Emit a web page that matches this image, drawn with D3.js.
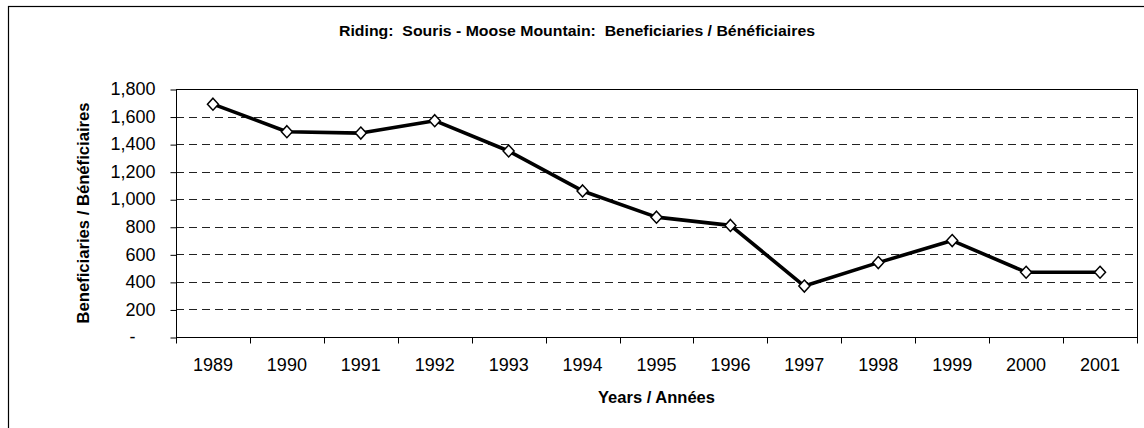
<!DOCTYPE html>
<html>
<head>
<meta charset="utf-8">
<script src="https://cdn.jsdelivr.net/npm/d3@7"></script>
<style>
  body { margin: 0; background: #fff; }
  svg { display: block; }
</style>
</head>
<body>
<div id="chart"></div>
<script>
// data
var years = ["1989","1990","1991","1992","1993","1994","1995","1996","1997","1998","1999","2000","2001"];
var beneficiaries = [1690, 1490, 1480, 1570, 1350, 1060, 870, 810, 370, 540, 700, 470, 470];
var yTicks = [0, 200, 400, 600, 800, 1000, 1200, 1400, 1600, 1800];

var W = 1144, H = 428;
var m = {top: 89, right: 7, bottom: 91, left: 176};
var font = "'Liberation Sans', Arial, sans-serif";

var svg = d3.select("#chart").append("svg")
    .attr("width", W).attr("height", H);

// outer chart frame (only top/left visible in the picture)
svg.append("rect")
    .attr("x", 8.5).attr("y", 6.5)
    .attr("width", W).attr("height", H)
    .style("fill", "none").style("stroke", "#000").style("stroke-width", 1.2);

var pw = W - m.left - m.right, ph = H - m.top - m.bottom;
var g = svg.append("g").attr("transform", "translate(" + m.left + "," + m.top + ")");

var x = d3.scaleBand().domain(years).range([0, pw]);
var y = d3.scaleLinear().domain([0, 1800]).range([ph, 0]);

// dashed gridlines
g.append("g").selectAll("line")
    .data(yTicks.filter(function(d){ return d > 0 && d < 1800; }))
    .enter().append("line")
    .attr("x1", 0).attr("x2", pw)
    .attr("y1", function(d){ return Math.round(y(d)) + 0.5; })
    .attr("y2", function(d){ return Math.round(y(d)) + 0.5; })
    .style("stroke", "#222").style("stroke-width", 1)
    .style("stroke-dasharray", "8,5");

// plot frame
g.append("rect")
    .attr("x", 0.5).attr("y", 0.5).attr("width", pw).attr("height", ph)
    .style("fill", "none").style("stroke", "#000").style("stroke-width", 1);

// y axis
var yAxis = d3.axisLeft(y).tickValues(yTicks).tickSize(6).tickPadding(15)
    .tickFormat(function(d){ return d === 0 ? "-" : d3.format(",")(d); });
var gy = g.append("g").attr("transform", "translate(0.5,0)").call(yAxis);
gy.select(".domain").remove();
gy.selectAll("line").attr("transform", "translate(0,0.5)").style("stroke", "#000");
gy.selectAll("text")
    .style("font-family", font).style("font-size", "18px").style("fill", "#000")
    .attr("dx", function(d){ return d === 0 ? -20 : 0; });

// x axis, ticks on band boundaries
var gx = g.append("g").attr("transform", "translate(0," + (ph + 0.5) + ")");
gx.selectAll("line.tick")
    .data(years.concat(["end"]))
    .enter().append("line").attr("class", "tick")
    .attr("x1", function(d, i){ return Math.round(i * x.step()) + 0.5; })
    .attr("x2", function(d, i){ return Math.round(i * x.step()) + 0.5; })
    .attr("y1", 0).attr("y2", 6)
    .style("stroke", "#000");
gx.selectAll("text")
    .data(years)
    .enter().append("text")
    .attr("x", function(d){ return x(d) + x.bandwidth() / 2; })
    .attr("y", 33)
    .attr("text-anchor", "middle")
    .style("font-family", font).style("font-size", "18px")
    .text(function(d){ return d; });

// line + diamond markers
var line = d3.line()
    .x(function(d, i){ return x(years[i]) + x.bandwidth() / 2; })
    .y(function(d){ return y(d); });

g.append("path")
    .datum(beneficiaries)
    .attr("d", line)
    .style("fill", "none").style("stroke", "#000").style("stroke-width", 3.6)
    .style("stroke-linejoin", "round");

g.selectAll("path.marker")
    .data(beneficiaries)
    .enter().append("path").attr("class", "marker")
    .attr("transform", function(d, i){
        return "translate(" + (x(years[i]) + x.bandwidth() / 2) + "," + y(d) + ")";
    })
    .attr("d", "M0,-6L5.5,0L0,6L-5.5,0Z")
    .style("fill", "#fff").style("stroke", "#000").style("stroke-width", 1.5);

// titles
svg.append("text")
    .attr("x", 577).attr("y", 36)
    .attr("text-anchor", "middle")
    .attr("textLength", 476).attr("lengthAdjust", "spacingAndGlyphs")
    .style("white-space", "pre")
    .style("font-family", font).style("font-weight", "bold").style("font-size", "15px")
    .text("Riding:  Souris - Moose Mountain:  Beneficiaries / Bénéficiaires");

svg.append("text")
    .attr("x", m.left + pw / 2).attr("y", 403)
    .attr("text-anchor", "middle")
    .attr("textLength", 117).attr("lengthAdjust", "spacingAndGlyphs")
    .style("font-family", font).style("font-weight", "bold").style("font-size", "17px")
    .text("Years / Années");

svg.append("text")
    .attr("transform", "translate(89," + (m.top + ph / 2) + ") rotate(-90)")
    .attr("text-anchor", "middle")
    .attr("textLength", 221).attr("lengthAdjust", "spacingAndGlyphs")
    .style("font-family", font).style("font-weight", "bold").style("font-size", "17px")
    .text("Beneficiaries / Bénéficiaires");
</script>
</body>
</html>
